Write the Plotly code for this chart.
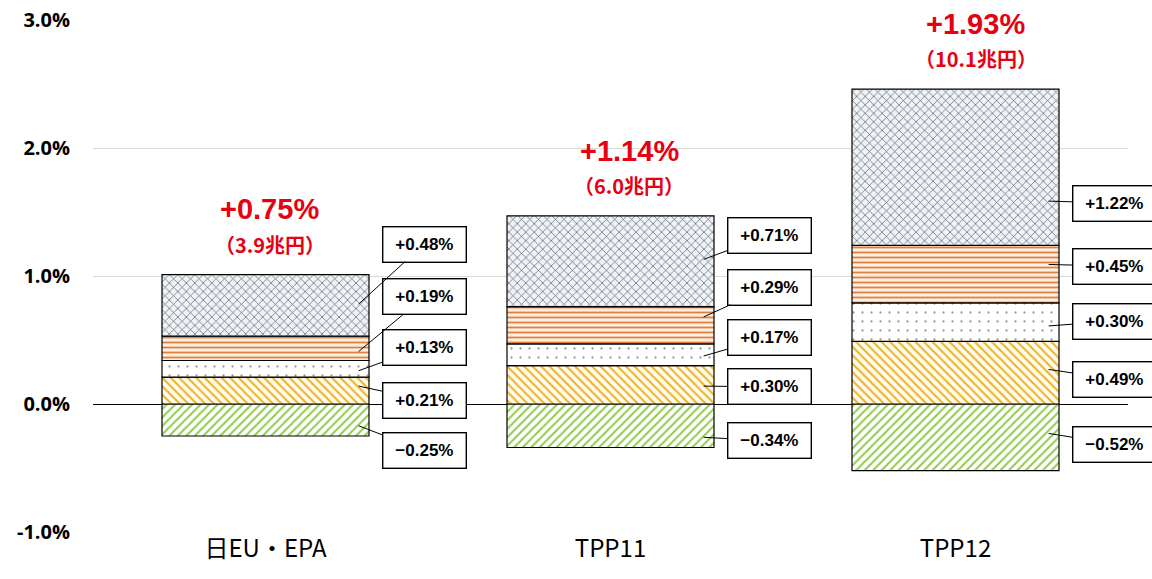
import plotly.graph_objects as go

# ---- data ----
categories = ["日EU・EPA", "TPP11", "TPP12"]
series_names = ["要因A", "要因B", "要因C", "要因D", "要因E"]  # bottom -> top
val_green = [-0.25, -0.34, -0.52]
val_yellow = [0.21, 0.30, 0.49]
val_dots = [0.13, 0.17, 0.30]
val_orange = [0.19, 0.29, 0.45]
val_cross = [0.48, 0.71, 1.22]
total_pct = ["+0.75%", "+1.14%", "+1.93%"]
total_yen = ["（3.9兆円）", "（6.0兆円）", "（10.1兆円）"]
y_ticks = [-1.0, 0.0, 1.0, 2.0, 3.0]
y_tick_labels = ["-1.0%", "0.0%", "1.0%", "2.0%", "3.0%"]

series_values = [val_green, val_yellow, val_dots, val_orange, val_cross]

# ---- label layout (positions in data units) ----
box_y = [
    [-0.367, 0.03, 0.445, 0.836, 1.25],
    [-0.289, 0.133, 0.523, 0.914, 1.32],
    [-0.3125, 0.195, 0.648, 1.078, 1.57],
]
tip_y = [
    [-0.17, 0.14, 0.26, 0.41, 0.78],
    [-0.26, 0.14, 0.375, 0.68, 1.13],
    [-0.23, 0.27, 0.61, 1.09, 1.585],
]
title_dx = [0.012, 0.055, 0.058]

styles = [
    dict(shape="/", fg="#92CC50", bg="#FFFFFF", size=6, solidity=0.35),
    dict(shape="\\", fg="#EDB22A", bg="#FFFCEF", size=6, solidity=0.35),
    dict(shape=".", fg="#9A9A9A", bg="#FFFFFF", size=9, solidity=0.05),
    dict(shape="-", fg="#DE7F3F", bg="#FDEEDF", size=5, solidity=0.35),
    dict(shape="x", fg="#5E5E5E", bg="#EEF3F9", size=6, solidity=0.22),
]

fig = go.Figure()
for name, vals, st in zip(series_names, series_values, styles):
    fig.add_trace(go.Bar(
        x=list(range(len(categories))), y=vals, name=name, width=0.6,
        marker=dict(
            color=st["bg"],
            line=dict(color="#000000", width=1.2),
            pattern=dict(shape=st["shape"], fgcolor=st["fg"], bgcolor=st["bg"],
                         size=st["size"], solidity=st["solidity"], fillmode="replace"),
        ),
        showlegend=False, hoverinfo="skip",
    ))

def fmt(v):
    return ("+" if v > 0 else "−") + f"{abs(v):.2f}%"

annotations = []
label_font = dict(family="Liberation Sans, Arial, sans-serif", size=17, color="#000000", weight="bold")
for i in range(len(categories)):
    for s, vals in enumerate(series_values):
        annotations.append(dict(
            x=i + 0.27, y=tip_y[i][s], xref="x", yref="y",
            ax=i + 0.46, ay=box_y[i][s], axref="x", ayref="y",
            text=fmt(vals[i]), showarrow=True, arrowhead=0, arrowwidth=1,
            arrowcolor="#000000", font=label_font,
            bgcolor="#FFFFFF", bordercolor="#000000", borderwidth=1.4,
            borderpad=5, width=72, height=24, align="center",
        ))
    top = sum(v[i] for v in series_values if v[i] > 0)
    annotations.append(dict(
        x=i + title_dx[i], y=top + 0.51, xref="x", yref="y", showarrow=False,
        text="<b>" + total_pct[i] + "</b>",
        font=dict(family="Liberation Sans, Arial, sans-serif", size=29, color="#E60012"),
    ))
    annotations.append(dict(
        x=i + title_dx[i], y=top + 0.24, xref="x", yref="y", showarrow=False,
        text="<b>" + total_yen[i] + "</b>",
        font=dict(family="Noto Sans CJK JP, sans-serif", size=20, color="#E60012"),
    ))

fig.update_layout(
    barmode="relative",
    width=1152, height=579,
    margin=dict(l=93, r=24, t=20, b=47),
    paper_bgcolor="#FFFFFF", plot_bgcolor="#FFFFFF",
    annotations=annotations,
    xaxis=dict(
        range=[-0.5, 2.5], tickmode="array", tickvals=list(range(len(categories))),
        ticktext=categories, showgrid=False, zeroline=False, showline=False,
        ticks="", automargin=False,
        tickfont=dict(family="Noto Sans CJK JP, sans-serif", size=24, color="#000000"),
    ),
    yaxis=dict(
        range=[-1.0, 3.0], tickmode="array", tickvals=y_ticks, ticktext=y_tick_labels,
        showgrid=True, gridcolor="#D9D9D9", gridwidth=1,
        zeroline=True, zerolinecolor="#000000", zerolinewidth=1.2,
        showline=False, ticks="", ticklabelstandoff=22, automargin=False,
        tickfont=dict(family="Open Sans, Arial, sans-serif", size=20, color="#000000", weight="bold"),
    ),
)

fig.write_html("out.html", config={"displayModeBar": False},
               post_script="document.body.style.margin='0px';")
